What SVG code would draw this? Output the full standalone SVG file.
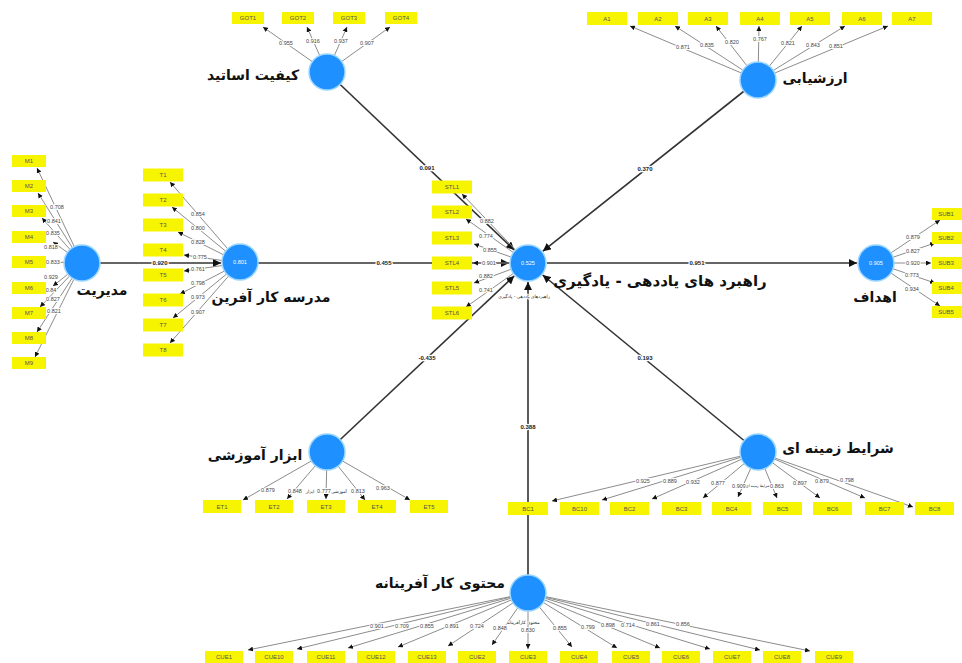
<svg xmlns="http://www.w3.org/2000/svg" width="962" height="663" viewBox="0 0 962 663">
<style>
.bg{fill:#fff}
.ind rect{fill:#F7F400}
.ind text{font-family:"Liberation Sans",Arial,sans-serif;font-size:6px;fill:#555;text-anchor:middle;dominant-baseline:central}
.ld{font-family:"Liberation Sans",Arial,sans-serif;font-size:5.5px;fill:#444;text-anchor:middle;dominant-baseline:central;stroke:#fff;stroke-width:2;paint-order:stroke}
.pl{font-family:"Liberation Sans",Arial,sans-serif;font-size:6px;font-weight:bold;fill:#222;text-anchor:middle;dominant-baseline:central;stroke:#fff;stroke-width:2.5;paint-order:stroke}
.lbl{font-family:"DejaVu Sans",sans-serif;font-size:14px;font-weight:bold;fill:#111;text-anchor:middle;dominant-baseline:central}
.tiny{font-family:"DejaVu Sans",sans-serif;font-size:4.5px;fill:#222;text-anchor:middle;dominant-baseline:central;stroke:#fff;stroke-width:1.5;paint-order:stroke}
.val{font-family:"Liberation Sans",Arial,sans-serif;font-size:5.5px;fill:#fff;text-anchor:middle;dominant-baseline:central}
.ll{stroke:#8c8c8c;stroke-width:1;fill:none;marker-end:url(#a1)}
.pp{stroke:#333;stroke-width:1.6;fill:none;marker-end:url(#a2)}
.cir{fill:#1E90FF;stroke:#9AD6FF;stroke-width:1.5}
</style>
<defs>
<marker id="a1" viewBox="0 0 10 10" refX="10" refY="5" markerWidth="5" markerHeight="5" orient="auto" markerUnits="userSpaceOnUse"><path d="M0,0 L10,5 L0,10 z" fill="#111"/></marker>
<marker id="a2" viewBox="0 0 10 10" refX="10" refY="5" markerWidth="8" markerHeight="8" orient="auto" markerUnits="userSpaceOnUse"><path d="M0,0 L10,5 L0,10 z" fill="#111"/></marker>
</defs>
<rect class="bg" width="962" height="663"/>

<g id="connectors">
  <!-- structural paths -->
  <line class="pp" x1="327" y1="72" x2="514.2" y2="249.9"/>
  <line class="pp" x1="758" y1="80" x2="542.9" y2="251.2"/>
  <line class="pp" x1="100" y1="263" x2="221" y2="263"/>
  <line class="pp" x1="240" y1="263" x2="509" y2="263"/>
  <line class="pp" x1="547" y1="263" x2="857" y2="263"/>
  <line class="pp" x1="327" y1="452" x2="514.2" y2="276"/>
  <line class="pp" x1="758" y1="452" x2="542.7" y2="275"/>
  <line class="pp" x1="528" y1="593" x2="528" y2="282"/>
  <!-- GOT loadings -->
  <line class="ll" x1="327" y1="72" x2="263" y2="27"/>
  <line class="ll" x1="327" y1="72" x2="307" y2="27"/>
  <line class="ll" x1="327" y1="72" x2="347" y2="27"/>
  <line class="ll" x1="327" y1="72" x2="390" y2="27"/>
  <!-- A loadings -->
  <line class="ll" x1="758" y1="80" x2="630" y2="26"/>
  <line class="ll" x1="758" y1="80" x2="675" y2="26"/>
  <line class="ll" x1="758" y1="80" x2="716" y2="26"/>
  <line class="ll" x1="758" y1="80" x2="759" y2="26"/>
  <line class="ll" x1="758" y1="80" x2="802" y2="26"/>
  <line class="ll" x1="758" y1="80" x2="845" y2="26"/>
  <line class="ll" x1="758" y1="80" x2="888" y2="26"/>
  <!-- M loadings -->
  <line class="ll" x1="82" y1="263" x2="37" y2="168"/>
  <line class="ll" x1="82" y1="263" x2="38" y2="193"/>
  <line class="ll" x1="82" y1="263" x2="42" y2="218"/>
  <line class="ll" x1="82" y1="263" x2="53" y2="242"/>
  <line class="ll" x1="82" y1="263" x2="53" y2="262"/>
  <line class="ll" x1="82" y1="263" x2="53" y2="286"/>
  <line class="ll" x1="82" y1="263" x2="40" y2="307"/>
  <line class="ll" x1="82" y1="263" x2="37" y2="332"/>
  <line class="ll" x1="82" y1="263" x2="35" y2="357"/>
  <!-- T loadings -->
  <line class="ll" x1="240" y1="263" x2="170" y2="182"/>
  <line class="ll" x1="240" y1="263" x2="172" y2="207"/>
  <line class="ll" x1="240" y1="263" x2="178" y2="232"/>
  <line class="ll" x1="240" y1="263" x2="184" y2="255"/>
  <line class="ll" x1="240" y1="263" x2="184" y2="271"/>
  <line class="ll" x1="240" y1="263" x2="180" y2="294"/>
  <line class="ll" x1="240" y1="263" x2="173" y2="318"/>
  <line class="ll" x1="240" y1="263" x2="170" y2="343"/>
  <!-- STL loadings -->
  <line class="ll" x1="528" y1="263" x2="462" y2="194"/>
  <line class="ll" x1="528" y1="263" x2="466" y2="219"/>
  <line class="ll" x1="528" y1="263" x2="474" y2="244"/>
  <line class="ll" x1="528" y1="263" x2="473" y2="263"/>
  <line class="ll" x1="528" y1="263" x2="474" y2="283"/>
  <line class="ll" x1="528" y1="263" x2="466" y2="307"/>
  <!-- SUB loadings -->
  <line class="ll" x1="876" y1="263" x2="940" y2="220"/>
  <line class="ll" x1="876" y1="263" x2="935" y2="243"/>
  <line class="ll" x1="876" y1="263" x2="931" y2="263"/>
  <line class="ll" x1="876" y1="263" x2="935" y2="283"/>
  <line class="ll" x1="876" y1="263" x2="940" y2="306"/>
  <!-- ET loadings -->
  <line class="ll" x1="327" y1="452" x2="243" y2="500"/>
  <line class="ll" x1="327" y1="452" x2="287" y2="499"/>
  <line class="ll" x1="327" y1="452" x2="326" y2="499"/>
  <line class="ll" x1="327" y1="452" x2="365" y2="500"/>
  <line class="ll" x1="327" y1="452" x2="410" y2="500"/>
  <!-- BC loadings -->
  <line class="ll" x1="758" y1="452" x2="552" y2="501"/>
  <line class="ll" x1="758" y1="452" x2="602" y2="500"/>
  <line class="ll" x1="758" y1="452" x2="652" y2="499"/>
  <line class="ll" x1="758" y1="452" x2="703" y2="498"/>
  <line class="ll" x1="758" y1="452" x2="738" y2="497"/>
  <line class="ll" x1="758" y1="452" x2="777" y2="498"/>
  <line class="ll" x1="758" y1="452" x2="820" y2="498"/>
  <line class="ll" x1="758" y1="452" x2="865" y2="498"/>
  <line class="ll" x1="758" y1="452" x2="913" y2="507"/>
  <!-- CUE loadings -->
  <line class="ll" x1="528" y1="593" x2="248" y2="650"/>
  <line class="ll" x1="528" y1="593" x2="297" y2="649"/>
  <line class="ll" x1="528" y1="593" x2="348" y2="648"/>
  <line class="ll" x1="528" y1="593" x2="398" y2="647"/>
  <line class="ll" x1="528" y1="593" x2="448" y2="646"/>
  <line class="ll" x1="528" y1="593" x2="492" y2="645"/>
  <line class="ll" x1="528" y1="593" x2="528" y2="649"/>
  <line class="ll" x1="528" y1="593" x2="572" y2="647"/>
  <line class="ll" x1="528" y1="593" x2="617" y2="648"/>
  <line class="ll" x1="528" y1="593" x2="660" y2="648"/>
  <line class="ll" x1="528" y1="593" x2="710" y2="649"/>
  <line class="ll" x1="528" y1="593" x2="760" y2="650"/>
  <line class="ll" x1="528" y1="593" x2="810" y2="651"/>
  <!-- path coefficients -->
  <text class="pl" x="427" y="168">0.091</text>
  <text class="pl" x="645" y="169">0.370</text>
  <text class="pl" x="160" y="263">0.920</text>
  <text class="pl" x="384" y="263">0.455</text>
  <text class="pl" x="697" y="263">0.951</text>
  <text class="pl" x="427" y="358">-0.435</text>
  <text class="pl" x="645" y="358">0.193</text>
  <text class="pl" x="528" y="427">0.388</text>
  <!-- loading values -->
  <text class="ld" x="286" y="43">0.955</text>
  <text class="ld" x="313" y="41">0.916</text>
  <text class="ld" x="341" y="41">0.937</text>
  <text class="ld" x="367" y="43">0.907</text>
  <text class="ld" x="683" y="47">0.871</text>
  <text class="ld" x="707" y="45">0.835</text>
  <text class="ld" x="732" y="42">0.820</text>
  <text class="ld" x="760" y="39">0.767</text>
  <text class="ld" x="788" y="43">0.821</text>
  <text class="ld" x="813" y="45">0.843</text>
  <text class="ld" x="836" y="46">0.851</text>
  <text class="ld" x="57" y="207">0.708</text>
  <text class="ld" x="54" y="221">0.841</text>
  <text class="ld" x="53" y="233">0.835</text>
  <text class="ld" x="51" y="247">0.818</text>
  <text class="ld" x="53" y="262">0.833</text>
  <text class="ld" x="51" y="277">0.929</text>
  <text class="ld" x="51" y="290">0.84</text>
  <text class="ld" x="53" y="299">0.827</text>
  <text class="ld" x="54" y="311">0.821</text>
  <text class="ld" x="198" y="214">0.854</text>
  <text class="ld" x="198" y="228">0.800</text>
  <text class="ld" x="198" y="242">0.828</text>
  <text class="ld" x="200" y="257">0.775</text>
  <text class="ld" x="198" y="269">0.761</text>
  <text class="ld" x="198" y="283">0.798</text>
  <text class="ld" x="198" y="297">0.973</text>
  <text class="ld" x="198" y="312">0.907</text>
  <text class="ld" x="487" y="221">0.882</text>
  <text class="ld" x="486" y="236">0.774</text>
  <text class="ld" x="490" y="250">0.855</text>
  <text class="ld" x="489" y="263">0.901</text>
  <text class="ld" x="486" y="276">0.882</text>
  <text class="ld" x="486" y="290">0.741</text>
  <text class="ld" x="913" y="237">0.879</text>
  <text class="ld" x="913" y="251">0.827</text>
  <text class="ld" x="913" y="263">0.920</text>
  <text class="ld" x="912" y="275">0.773</text>
  <text class="ld" x="912" y="289">0.934</text>
  <text class="ld" x="268" y="490">0.879</text>
  <text class="ld" x="295" y="491">0.848</text>
  <text class="tiny" x="310" y="491">ابزار</text>
  <text class="ld" x="324" y="491">0.777</text>
  <text class="tiny" x="339" y="491">آموزشی</text>
  <text class="ld" x="358" y="491">0.813</text>
  <text class="ld" x="383" y="488">0.963</text>
  <text class="ld" x="643" y="481">0.925</text>
  <text class="ld" x="670" y="481">0.889</text>
  <text class="ld" x="693" y="482">0.932</text>
  <text class="ld" x="718" y="483">0.877</text>
  <text class="ld" x="739" y="486">0.909</text>
  <text class="tiny" x="758" y="486" style="font-size:3.6px">شرایط زمینه ای</text>
  <text class="ld" x="777" y="486">0.863</text>
  <text class="ld" x="800" y="483">0.897</text>
  <text class="ld" x="822" y="481">0.879</text>
  <text class="ld" x="847" y="480">0.798</text>
  <text class="ld" x="377" y="626">0.901</text>
  <text class="ld" x="402" y="626">0.709</text>
  <text class="ld" x="427" y="626">0.855</text>
  <text class="ld" x="452" y="626">0.891</text>
  <text class="ld" x="477" y="626">0.724</text>
  <text class="ld" x="500" y="628">0.848</text>
  <text class="tiny" x="523" y="622">محتوی کارآفرینانه</text>
  <text class="ld" x="528" y="630">0.830</text>
  <text class="ld" x="560" y="628">0.855</text>
  <text class="ld" x="588" y="627">0.799</text>
  <text class="ld" x="608" y="625">0.898</text>
  <text class="ld" x="628" y="625">0.714</text>
  <text class="ld" x="653" y="624">0.861</text>
  <text class="ld" x="683" y="624">0.856</text>
</g>

<!-- indicators -->
<g id="GOT1" class="ind"><rect x="232" y="12" width="32" height="12"/><text x="248" y="18">GOT1</text></g>
<g id="GOT2" class="ind"><rect x="282" y="12" width="32" height="12"/><text x="298" y="18">GOT2</text></g>
<g id="GOT3" class="ind"><rect x="333" y="12" width="32" height="12"/><text x="349" y="18">GOT3</text></g>
<g id="GOT4" class="ind"><rect x="385" y="12" width="32" height="12"/><text x="401" y="18">GOT4</text></g>

<g id="A1" class="ind"><rect x="587" y="12" width="40" height="13"/><text x="607" y="18.5">A1</text></g>
<g id="A2" class="ind"><rect x="638" y="12" width="40" height="13"/><text x="658" y="18.5">A2</text></g>
<g id="A3" class="ind"><rect x="688" y="12" width="40" height="13"/><text x="708" y="18.5">A3</text></g>
<g id="A4" class="ind"><rect x="740" y="12" width="40" height="13"/><text x="760" y="18.5">A4</text></g>
<g id="A5" class="ind"><rect x="790" y="12" width="40" height="13"/><text x="810" y="18.5">A5</text></g>
<g id="A6" class="ind"><rect x="842" y="12" width="40" height="13"/><text x="862" y="18.5">A6</text></g>
<g id="A7" class="ind"><rect x="892" y="12" width="40" height="13"/><text x="912" y="18.5">A7</text></g>

<g id="M1" class="ind"><rect x="12" y="155" width="34" height="12"/><text x="29" y="161">M1</text></g>
<g id="M2" class="ind"><rect x="12" y="180" width="34" height="12"/><text x="29" y="186">M2</text></g>
<g id="M3" class="ind"><rect x="12" y="205" width="34" height="12"/><text x="29" y="211">M3</text></g>
<g id="M4" class="ind"><rect x="12" y="231" width="34" height="12"/><text x="29" y="237">M4</text></g>
<g id="M5" class="ind"><rect x="12" y="256" width="34" height="12"/><text x="29" y="262">M5</text></g>
<g id="M6" class="ind"><rect x="12" y="282" width="34" height="12"/><text x="29" y="288">M6</text></g>
<g id="M7" class="ind"><rect x="12" y="307" width="34" height="12"/><text x="29" y="313">M7</text></g>
<g id="M8" class="ind"><rect x="12" y="332" width="34" height="12"/><text x="29" y="338">M8</text></g>
<g id="M9" class="ind"><rect x="12" y="357" width="34" height="12"/><text x="29" y="363">M9</text></g>

<g id="T1" class="ind"><rect x="143" y="168.5" width="40" height="13"/><text x="163" y="175">T1</text></g>
<g id="T2" class="ind"><rect x="143" y="193.5" width="40" height="13"/><text x="163" y="200">T2</text></g>
<g id="T3" class="ind"><rect x="143" y="218.5" width="40" height="13"/><text x="163" y="225">T3</text></g>
<g id="T4" class="ind"><rect x="143" y="243.5" width="40" height="13"/><text x="163" y="250">T4</text></g>
<g id="T5" class="ind"><rect x="143" y="268.5" width="40" height="13"/><text x="163" y="275">T5</text></g>
<g id="T6" class="ind"><rect x="143" y="293.5" width="40" height="13"/><text x="163" y="300">T6</text></g>
<g id="T7" class="ind"><rect x="143" y="318.5" width="40" height="13"/><text x="163" y="325">T7</text></g>
<g id="T8" class="ind"><rect x="143" y="343.5" width="40" height="13"/><text x="163" y="350">T8</text></g>

<g id="STL1" class="ind"><rect x="432" y="180.5" width="40" height="13"/><text x="452" y="187">STL1</text></g>
<g id="STL2" class="ind"><rect x="432" y="205.5" width="40" height="13"/><text x="452" y="212">STL2</text></g>
<g id="STL3" class="ind"><rect x="432" y="231.5" width="40" height="13"/><text x="452" y="238">STL3</text></g>
<g id="STL4" class="ind"><rect x="432" y="256.5" width="40" height="13"/><text x="452" y="263">STL4</text></g>
<g id="STL5" class="ind"><rect x="432" y="281.5" width="40" height="13"/><text x="452" y="288">STL5</text></g>
<g id="STL6" class="ind"><rect x="432" y="306.5" width="40" height="13"/><text x="452" y="313">STL6</text></g>

<g id="SUB1" class="ind"><rect x="932" y="208" width="32" height="12"/><text x="946" y="214">SUB1</text></g>
<g id="SUB2" class="ind"><rect x="932" y="232" width="32" height="12"/><text x="946" y="238">SUB2</text></g>
<g id="SUB3" class="ind"><rect x="932" y="257" width="32" height="12"/><text x="946" y="263">SUB3</text></g>
<g id="SUB4" class="ind"><rect x="932" y="282" width="32" height="12"/><text x="946" y="288">SUB4</text></g>
<g id="SUB5" class="ind"><rect x="932" y="306" width="32" height="12"/><text x="946" y="312">SUB5</text></g>

<g id="ET1" class="ind"><rect x="203" y="500" width="38" height="13"/><text x="222" y="506.5">ET1</text></g>
<g id="ET2" class="ind"><rect x="255" y="500" width="38" height="13"/><text x="274" y="506.5">ET2</text></g>
<g id="ET3" class="ind"><rect x="307" y="500" width="38" height="13"/><text x="326" y="506.5">ET3</text></g>
<g id="ET4" class="ind"><rect x="358" y="500" width="38" height="13"/><text x="377" y="506.5">ET4</text></g>
<g id="ET5" class="ind"><rect x="410" y="500" width="38" height="13"/><text x="429" y="506.5">ET5</text></g>

<g id="BC1" class="ind"><rect x="508" y="502" width="40" height="13"/><text x="528" y="508.5">BC1</text></g>
<g id="BC10" class="ind"><rect x="560" y="502" width="39" height="13"/><text x="579.5" y="508.5">BC10</text></g>
<g id="BC2" class="ind"><rect x="610" y="502" width="39" height="13"/><text x="629.5" y="508.5">BC2</text></g>
<g id="BC3" class="ind"><rect x="662" y="502" width="39" height="13"/><text x="681.5" y="508.5">BC3</text></g>
<g id="BC4" class="ind"><rect x="712" y="502" width="39" height="13"/><text x="731.5" y="508.5">BC4</text></g>
<g id="BC5" class="ind"><rect x="763" y="502" width="39" height="13"/><text x="782.5" y="508.5">BC5</text></g>
<g id="BC6" class="ind"><rect x="813" y="502" width="39" height="13"/><text x="832.5" y="508.5">BC6</text></g>
<g id="BC7" class="ind"><rect x="865" y="502" width="39" height="13"/><text x="884.5" y="508.5">BC7</text></g>
<g id="BC8" class="ind"><rect x="915" y="502" width="39" height="13"/><text x="934.5" y="508.5">BC8</text></g>

<g id="CUE1" class="ind"><rect x="205" y="651" width="38" height="13"/><text x="224" y="657">CUE1</text></g>
<g id="CUE10" class="ind"><rect x="255" y="651" width="38" height="13"/><text x="274" y="657">CUE10</text></g>
<g id="CUE11" class="ind"><rect x="307" y="651" width="38" height="13"/><text x="326" y="657">CUE11</text></g>
<g id="CUE12" class="ind"><rect x="357" y="651" width="38" height="13"/><text x="376" y="657">CUE12</text></g>
<g id="CUE13" class="ind"><rect x="408" y="651" width="38" height="13"/><text x="427" y="657">CUE13</text></g>
<g id="CUE2" class="ind"><rect x="458" y="651" width="38" height="13"/><text x="477" y="657">CUE2</text></g>
<g id="CUE3" class="ind"><rect x="509" y="651" width="38" height="13"/><text x="528" y="657">CUE3</text></g>
<g id="CUE4" class="ind"><rect x="560" y="651" width="38" height="13"/><text x="579" y="657">CUE4</text></g>
<g id="CUE5" class="ind"><rect x="612" y="651" width="38" height="13"/><text x="631" y="657">CUE5</text></g>
<g id="CUE6" class="ind"><rect x="662" y="651" width="38" height="13"/><text x="681" y="657">CUE6</text></g>
<g id="CUE7" class="ind"><rect x="713" y="651" width="38" height="13"/><text x="732" y="657">CUE7</text></g>
<g id="CUE8" class="ind"><rect x="763" y="651" width="38" height="13"/><text x="782" y="657">CUE8</text></g>
<g id="CUE9" class="ind"><rect x="815" y="651" width="38" height="13"/><text x="834" y="657">CUE9</text></g>

<!-- constructs -->
<g id="quality"><circle class="cir" cx="327" cy="72" r="18"/><text class="lbl" x="253" y="75">کیفیت اساتید</text></g>
<g id="evaluation"><circle class="cir" cx="758" cy="80" r="18"/><text class="lbl" x="815" y="78">ارزشیابی</text></g>
<g id="management"><circle class="cir" cx="82" cy="263" r="18"/><text class="lbl" x="102" y="290">مدیریت</text></g>
<g id="school"><circle class="cir" cx="240" cy="262" r="18"/><text class="val" x="240" y="262">0.801</text><text class="lbl" x="271" y="297">مدرسه کار آفرین</text></g>
<g id="strategy"><circle class="cir" cx="528" cy="263" r="18"/><text class="val" x="528" y="263">0.525</text><text class="lbl" x="660" y="281" style="font-size:15px">راهبرد های یاددهی - یادگیری</text><text class="tiny" x="524" y="296">راهبردهای یاددهی - یادگیری</text></g>
<g id="goals"><circle class="cir" cx="876" cy="263" r="18"/><text class="val" x="876" y="263">0.905</text><text class="lbl" x="875" y="297">اهداف</text></g>
<g id="tools"><circle class="cir" cx="327" cy="452" r="18"/><text class="lbl" x="255" y="455">ابزار آموزشی</text></g>
<g id="context"><circle class="cir" cx="758" cy="452" r="18"/><text class="lbl" x="838" y="448">شرایط زمینه ای</text></g>
<g id="content"><circle class="cir" cx="528" cy="593" r="18"/><text class="lbl" x="440" y="583">محتوی کار آفرینانه</text></g>
</svg>
